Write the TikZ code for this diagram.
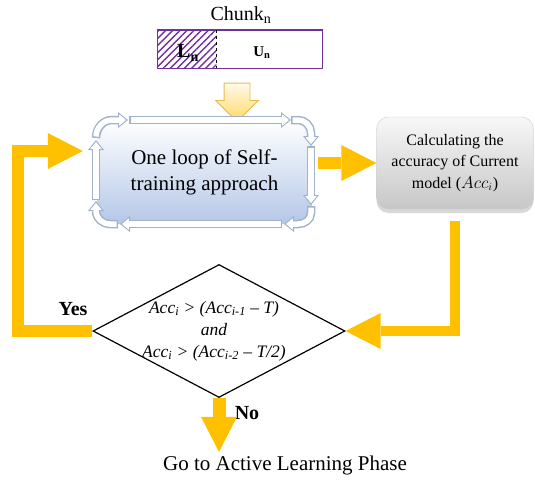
\documentclass[tikz,border=0pt]{standalone}
\usepackage{fontspec}
\setmainfont{Liberation Serif}
\usetikzlibrary{patterns.meta}
\usetikzlibrary{shapes, shapes.geometric, shapes.arrows}
\usetikzlibrary{arrows.meta, shadows}

\definecolor{yel}{HTML}{FFC000}
\definecolor{purp}{HTML}{7030A0}
\definecolor{ringc}{HTML}{A2B2CA}
\definecolor{lpblue}{HTML}{B4C7E7}
\definecolor{chkfill}{HTML}{FFD966}
\definecolor{chkline}{HTML}{E6BC4A}

\begin{document}
\begin{tikzpicture}[x=1pt, y=-1pt,
  yarrow/.style={draw=yel, line width=12pt, line join=miter,
    -{Triangle[width=36pt, length=35pt, line width=0pt]}},
  ring/.style={draw=ringc, line width=8.5pt,
    -{Triangle[width=16pt, length=10pt, line width=0pt]},
    postaction={draw=white, line width=5.5pt, shorten >=1.9pt, shorten <=1.5pt,
      -{Triangle[width=11.5pt, length=7pt, line width=0pt]}}},
  lbl/.style={font=\fontsize{20}{24}\selectfont\bfseries}]
  \useasboundingbox (0,0) rectangle (535,479);

  \draw (241,15) node[font=\fontsize{20}{24}\selectfont] (ch) {Chunk\textsubscript{n}};
  \draw (240,49) node[minimum width=165pt, minimum height=38pt] (chb) {};
  \fill[pattern={Lines[angle=45, distance=5pt, line width=1.4pt]}, pattern color=purp]
    (chb.north west) rectangle ([xshift=59pt]chb.south west);
  \draw[purp, line width=1.4pt] (chb.north west) rectangle (chb.south east);
  \draw[dashed, line width=1.2pt] ([xshift=59pt]chb.north west) -- ([xshift=59pt]chb.south west);
  \draw (188,53) node[font=\fontsize{20}{20}\selectfont\bfseries] (ln) {L\textsubscript{n}};
  \draw (262,53) node[font=\fontsize{15}{16}\selectfont\bfseries] (un) {U\textsubscript{n}};

  \draw (237,96) node[single arrow, shape border rotate=270, draw=chkline, line width=0.8pt,
    top color=chkfill!15, bottom color=chkfill, inner sep=12.5pt, minimum height=38pt,
    minimum width=42pt, single arrow head extend=8.5pt] (ca) {};

  \draw (204.5,172) node[rounded corners=14pt, top color=white, bottom color=lpblue,
    minimum width=215pt, minimum height=104pt, align=center,
    font=\fontsize{21}{26}\selectfont] (lp) {One loop of Self-\\training approach};

  \draw[ring] (96,138) to[out=90,in=180] (112,120) -- (128,120);
  \draw[ring] (129,120) -- (291,120);
  \draw[ring] (291,120) -- (298,120) to[out=0,in=90] (311,133) -- (311,146);
  \draw[ring] (311,146) -- (311,205);
  \draw[ring] (311,206) -- (311,213) to[out=270,in=0] (298,224) -- (284,224);
  \draw[ring] (282,224) -- (120,224);
  \draw[ring] (118,224) -- (110,224) to[out=180,in=270] (96,211) -- (96,201);
  \draw[ring] (96,200) -- (96,140);

  \draw (455,163) node[rounded corners=12pt, draw=black!20, top color=black!3,
    bottom color=black!22, minimum width=157pt, minimum height=92pt, align=center,
    drop shadow={shadow xshift=0pt, shadow yshift=-4pt, fill=black!30},
    font=\fontsize{16}{21.5}\selectfont] (acc)
    {Calculating the\\accuracy of Current\\model ($Acc_i$)};

  \draw (219,331) node[diamond, draw, line width=1.2pt, minimum width=252pt,
    minimum height=133pt, inner sep=0pt] (cnd) {};
  \draw (214,331) node[align=center, font=\itshape\fontsize{17.5}{22}\selectfont] (ct)
    {Acc\textsubscript{i} > (Acc\textsubscript{i-1} -- T)\\and\\
     Acc\textsubscript{i} > (Acc\textsubscript{i-2} -- T/2)};

  \draw (73,309) node[lbl] (yes) {Yes};
  \draw (247,413) node[lbl] (no) {No};
  \draw (285,465) node[font=\fontsize{21}{24}\selectfont] (go) {Go to Active Learning Phase};

  \coordinate (yb) at (18,151);
  \draw[yarrow] ([xshift=6pt]lp.east |- acc.west) -- (acc.west);
  \draw[yarrow, line width=10pt] ([yshift=-12pt]acc.south) |- (cnd.east);
  \draw[yarrow] (cnd.west) -| (yb) -- ([xshift=-14pt]lp.west |- yb);
  \draw[yarrow, line width=13pt] (cnd.south) -- (cnd.south |- go.north);
\end{tikzpicture}
\end{document}
